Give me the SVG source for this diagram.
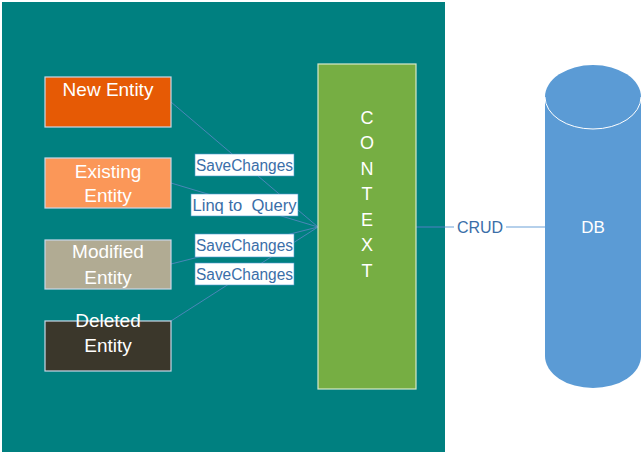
<svg xmlns="http://www.w3.org/2000/svg" width="643" height="454" viewBox="0 0 643 454">
<style>
.ent{stroke:#c8d8e8;stroke-width:1.2}
.et{font-family:"Liberation Sans",Arial,sans-serif;font-size:19px;fill:#ffffff;text-anchor:middle}
.lb{fill:#ffffff;stroke:#4f9ad0;stroke-width:0.6}
.lt{font-family:"Liberation Sans",Arial,sans-serif;font-size:16px;fill:#3a6ea8;text-anchor:middle}
.cx{font-family:"Liberation Sans",Arial,sans-serif;font-size:18px;fill:#ffffff;text-anchor:middle}
.ln{stroke:#4a86b8;stroke-width:1;fill:none}
</style>
<rect width="643" height="454" fill="#ffffff"/>
<rect id="panel" x="2" y="2" width="443" height="450" fill="#008080"/>
<g id="connectors">
<line class="ln" x1="171" y1="102" x2="318" y2="227"/>
<line class="ln" x1="171" y1="183" x2="318" y2="227"/>
<line class="ln" x1="171" y1="264" x2="318" y2="227"/>
<line class="ln" x1="171" y1="321" x2="318" y2="227"/>
<line x1="416" y1="227" x2="445" y2="227" stroke="#3f7fb5" stroke-width="1.3"/>
<line x1="445" y1="227" x2="545" y2="227" stroke="#9cc1e4" stroke-width="1.3"/>
</g>
<g id="label-save1"><rect class="lb" x="195" y="154" width="99" height="22"/><text class="lt" x="244.5" y="170.5" textLength="97" lengthAdjust="spacingAndGlyphs">SaveChanges</text></g>
<g id="label-linq"><rect class="lb" x="191" y="194" width="107" height="22"/><text class="lt" x="244.5" y="210.5" textLength="104" lengthAdjust="spacingAndGlyphs" xml:space="preserve">Linq to  Query</text></g>
<g id="label-save2"><rect class="lb" x="195" y="234" width="99" height="23"/><text class="lt" x="244.5" y="250.5" textLength="97" lengthAdjust="spacingAndGlyphs">SaveChanges</text></g>
<g id="label-save3"><rect class="lb" x="195" y="263" width="99" height="22"/><text class="lt" x="244.5" y="279.5" textLength="97" lengthAdjust="spacingAndGlyphs">SaveChanges</text></g>
<g id="new-entity"><rect class="ent" x="45" y="77" width="126" height="50" fill="#e65a05"/><text class="et" x="108" y="96">New Entity</text></g>
<g id="existing-entity"><rect class="ent" x="45" y="158" width="126" height="50" fill="#fb9758"/><text class="et" x="108" y="178">Existing</text><text class="et" x="108" y="202">Entity</text></g>
<g id="modified-entity"><rect class="ent" x="45" y="240" width="126" height="49" fill="#b1ab93"/><text class="et" x="108" y="258">Modified</text><text class="et" x="108" y="284">Entity</text></g>
<g id="deleted-entity"><rect class="ent" x="45" y="321" width="126" height="50" fill="#3b372b"/><text class="et" x="108" y="327">Deleted</text><text class="et" x="108" y="352">Entity</text></g>
<g id="context"><rect x="318" y="64" width="98" height="325" fill="#76ae43" stroke="#d8e8c8" stroke-width="1.2"/>
<text class="cx" x="367" y="124">C</text><text class="cx" x="367" y="149">O</text><text class="cx" x="367" y="175">N</text><text class="cx" x="367" y="200">T</text><text class="cx" x="367" y="226">E</text><text class="cx" x="367" y="251">X</text><text class="cx" x="367" y="277">T</text></g>
<g id="crud-label"><rect x="454" y="217" width="52" height="20" fill="#ffffff"/><text x="480" y="233" font-family="'Liberation Sans',Arial,sans-serif" font-size="16" fill="#3a6ea8" text-anchor="middle">CRUD</text></g>
<g id="db"><path d="M545,97 L545,356 A48,32 0 0 0 641,356 L641,97 A48,32 0 0 0 545,97 Z" fill="#5b9bd5"/>
<path d="M545,97 A48,32 0 0 0 641,97" fill="none" stroke="#ffffff" stroke-width="1"/>
<text x="593" y="233" font-family="'Liberation Sans',Arial,sans-serif" font-size="17" fill="#ffffff" text-anchor="middle">DB</text></g>
</svg>
